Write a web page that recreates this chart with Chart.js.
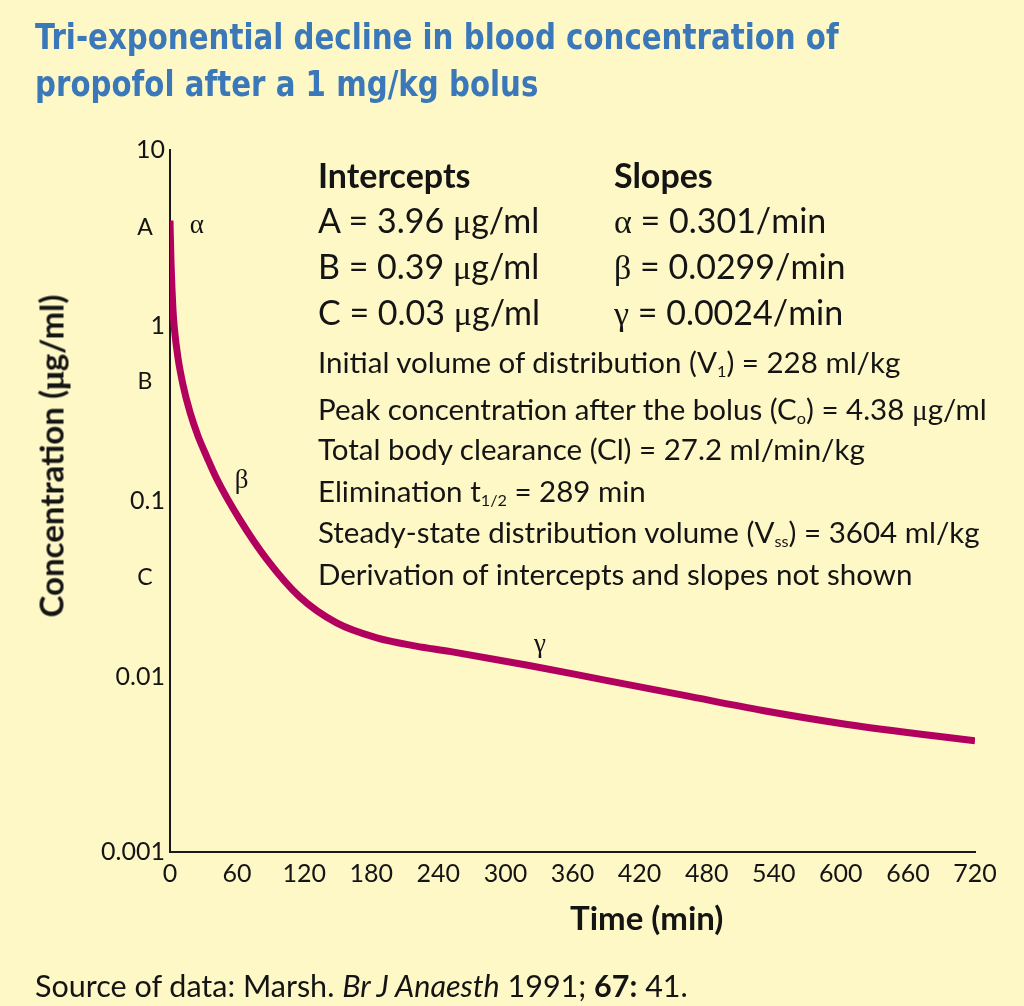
<!DOCTYPE html>
<html>
<head>
<meta charset="utf-8">
<script src="https://cdn.jsdelivr.net/npm/chart.js@4.4.1/dist/chart.umd.min.js"></script>
<style>
  html, body { margin: 0; padding: 0; }
  body { width: 1024px; height: 1006px; background: #fef7c6; position: relative; overflow: hidden;
         font-family: Lato, "Noto Sans", sans-serif; color: #141414; }
  #wrap { position: absolute; left: 0; top: 0; width: 1024px; height: 1006px; }
  .t { position: absolute; white-space: nowrap; line-height: 1; }
  .title { font-family: "Liberation Sans Narrow", "DejaVu Sans Condensed", sans-serif; font-weight: bold;
           font-size: 35px; color: #3b78b9; left: 35px; transform: scaleX(0.93); transform-origin: left top; }
  .head { font-weight: bold; font-size: 34px; }
  .big { font-size: 34px; }
  .small { font-size: 29.5px; }
  .gr { font-family: "Liberation Serif", "DejaVu Serif", serif; }
  sub { font-size: 0.55em; vertical-align: -0.25em; line-height: 0; }
  .axtitle { font-weight: bold; font-size: 33px; }
</style>
</head>
<body>
<div id="wrap"><canvas id="chart"></canvas></div>

<div class="t title" style="top:20px">Tri-exponential decline in blood concentration of</div>
<div class="t title" style="top:67px">propofol after a 1 mg/kg bolus</div>

<div class="t head" style="left:318px; top:158px">Intercepts</div>
<div class="t head" style="left:614px; top:158px">Slopes</div>
<div class="t big" style="left:318px; top:203px">A = 3.96 <span class="gr">μ</span>g/ml</div>
<div class="t big" style="left:318px; top:249px">B = 0.39 <span class="gr">μ</span>g/ml</div>
<div class="t big" style="left:318px; top:295px">C = 0.03 <span class="gr">μ</span>g/ml</div>
<div class="t big" style="left:614px; top:203px"><span class="gr">α</span> = 0.301/min</div>
<div class="t big" style="left:614px; top:249px"><span class="gr">β</span> = 0.0299/min</div>
<div class="t big" style="left:614px; top:295px"><span class="gr">γ</span> = 0.0024/min</div>

<div class="t small" style="left:318px; top:347px">Initial volume of distribution (V<sub>1</sub>) = 228 ml/kg</div>
<div class="t small" style="left:318px; top:394px">Peak concentration after the bolus (C<sub>o</sub>) = 4.38 <span class="gr">μ</span>g/ml</div>
<div class="t small" style="left:318px; top:434px">Total body clearance (Cl) = 27.2 ml/min/kg</div>
<div class="t small" style="left:318px; top:476px">Elimination t<sub>1/2</sub> = 289 min</div>
<div class="t small" style="left:318px; top:517px">Steady-state distribution volume (V<sub>ss</sub>) = 3604 ml/kg</div>
<div class="t small" style="left:318px; top:559px">Derivation of intercepts and slopes not shown</div>

<div class="t axtitle" style="left:570px; top:901px">Time (min)</div>
<div class="t axtitle" style="left:52px; top:456px; transform: translate(-50%, -50%) rotate(-90deg);">Concentration (<span class="gr">μ</span>g/ml)</div>

<div class="t" style="left:35px; top:970px; font-size:30.5px">Source of data: Marsh. <i>Br J Anaesth</i> 1991; <b>67:</b> 41.</div>

<script>
// curve (time in min, concentration in µg/ml)
const timeMin = [0, 0.9, 2.7, 4, 7.2, 11.6, 17.9, 25, 33, 42, 62.6, 86.8, 116, 149, 185, 220, 250, 320, 390, 460, 530, 600, 670, 720];
const concentration = [3.96, 2.3, 1.22, 0.95, 0.65, 0.46, 0.32, 0.235, 0.178, 0.133, 0.078, 0.0463, 0.0284, 0.0202,
                       0.0166, 0.0149, 0.0139, 0.0116, 0.0095, 0.0078, 0.0064, 0.0054, 0.0047, 0.0043];

// axis ticks
const yTickValues = [0.001, 0.01, 0.1, 1, 10];
const xTickStep = 60;
const xMax = 720;

// intercept letters beside the y axis, and phase letters along the curve
const interceptNames = ['A', 'B', 'C'];
const interceptLabelAt = [3.6, 0.48, 0.0365];
const phaseNames = ['α', 'β', 'γ'];
const phaseLabelT = [24, 64, 331];
const phaseLabelC = [3.7, 0.13, 0.0151];

const points = timeMin.map((t, i) => ({ x: t, y: concentration[i] }));

const labelPlugin = {
  id: 'curveLabels',
  afterDatasetsDraw(chart) {
    const { ctx, scales: { x, y }, chartArea } = chart;
    ctx.save();
    ctx.fillStyle = '#141414';
    ctx.textAlign = 'center';
    ctx.textBaseline = 'middle';
    ctx.font = '23px Lato, "Noto Sans", sans-serif';
    interceptNames.forEach((n, i) => {
      ctx.fillText(n, chartArea.left - 25, y.getPixelForValue(interceptLabelAt[i]));
    });
    ctx.font = '27px "Liberation Serif", serif';
    phaseNames.forEach((n, i) => {
      ctx.fillText(n, x.getPixelForValue(phaseLabelT[i]), y.getPixelForValue(phaseLabelC[i]));
    });
    ctx.restore();
  }
};

Chart.defaults.font.family = 'Lato, "Noto Sans", sans-serif';
Chart.defaults.color = '#141414';

new Chart(document.getElementById('chart'), {
  type: 'line',
  data: {
    datasets: [{
      data: points,
      borderColor: '#b2005f',
      borderWidth: 7,
      pointRadius: 0,
      fill: false,
      cubicInterpolationMode: 'monotone',
      borderCapStyle: 'butt'
    }]
  },
  options: {
    responsive: true,
    maintainAspectRatio: false,
    animation: false,
    layout: { padding: { left: 0, top: 150, right: 49, bottom: 0 } },
    plugins: { legend: { display: false }, tooltip: { enabled: false } },
    scales: {
      x: {
        type: 'linear',
        min: 0,
        max: xMax,
        grid: { color: 'transparent', drawTicks: false },
        border: { display: true, color: '#1a1a1a', width: 2 },
        ticks: { stepSize: xTickStep, padding: 7, font: { size: 25 }, maxRotation: 0 },
        afterFit(scale) { scale.height = 154; }
      },
      y: {
        type: 'logarithmic',
        min: 0.001,
        max: 10,
        grid: { color: 'transparent', drawTicks: false },
        border: { display: true, color: '#1a1a1a', width: 2 },
        afterBuildTicks(scale) { scale.ticks = yTickValues.map(v => ({ value: v })); },
        ticks: { padding: 5, font: { size: 25 }, callback: v => String(v) },
        afterFit(scale) { scale.width = 170; }
      }
    }
  },
  plugins: [labelPlugin]
});
</script>
</body>
</html>
